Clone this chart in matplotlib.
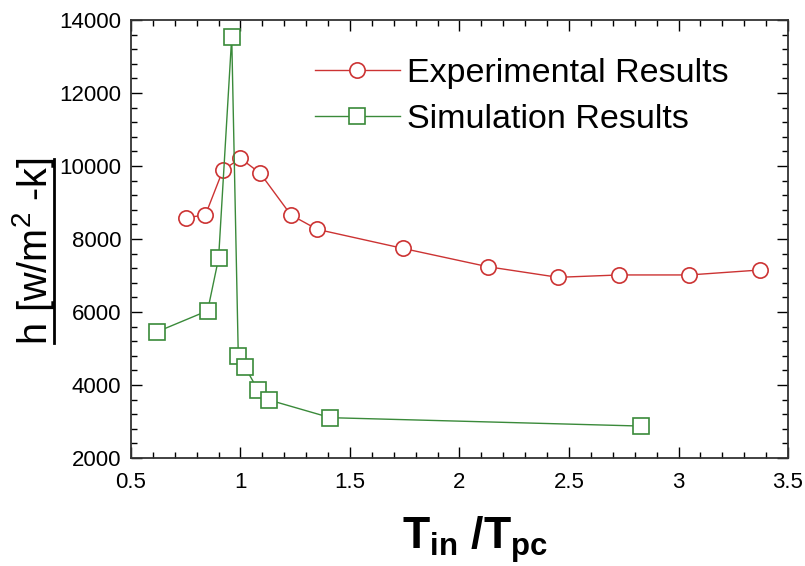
import matplotlib
matplotlib.use("Agg")
import matplotlib.pyplot as plt
from matplotlib.lines import Line2D
from matplotlib.ticker import MultipleLocator, FormatStrFormatter

plt.rcParams["font.family"] = ["Liberation Sans", "DejaVu Sans"]
plt.rcParams["mathtext.fontset"] = "custom"
plt.rcParams["mathtext.rm"] = "Liberation Sans"
plt.rcParams["mathtext.it"] = "Liberation Sans"
plt.rcParams["mathtext.bf"] = "Liberation Sans:bold"

# experimental results (circles)
exp_x = [0.75, 0.84, 0.92, 1.00, 1.09, 1.23, 1.35, 1.74, 2.13, 2.45, 2.73, 3.05, 3.37]
exp_h = [8580, 8660, 9890, 10210, 9800, 8660, 8265, 7745, 7240, 6950, 7015, 7015, 7150]

# simulation results (squares)
sim_x = [0.62, 0.85, 0.90, 0.96, 0.99, 1.02, 1.08, 1.13, 1.41, 2.83]
sim_h = [5460, 6035, 7470, 13540, 4795, 4500, 3860, 3590, 3105, 2875]

red = "#cc3333"
green = "#3a8a3a"

fig = plt.figure(figsize=(8.05, 5.66), dpi=100)
ax = fig.add_axes([0.1627, 0.1908, 0.8162, 0.7739])

ax.plot(exp_x, exp_h, color=red, lw=1.0, marker="o", ms=11, mfc="white",
        mec=red, mew=1.2, label="Experimental Results")
ax.plot(sim_x, sim_h, color=green, lw=1.0, marker="s", ms=12, mfc="white",
        mec=green, mew=1.2, label="Simulation Results")

ax.set_xlim(0.5, 3.5)
ax.set_ylim(2000, 14000)
ax.xaxis.set_major_locator(MultipleLocator(0.5))
ax.xaxis.set_minor_locator(MultipleLocator(0.1))
ax.xaxis.set_major_formatter(FormatStrFormatter("%g"))
ax.yaxis.set_major_locator(MultipleLocator(2000))
ax.yaxis.set_minor_locator(MultipleLocator(400))
ax.tick_params(which="both", direction="in", top=True, right=True, width=1.0,
               labelsize=16)
ax.tick_params(which="major", length=8)
ax.tick_params(which="minor", length=4.5)
ax.tick_params(axis="x", pad=10)
ax.tick_params(axis="y", pad=7)
for s in ax.spines.values():
    s.set_linewidth(1.3)
    s.set_color("#333333")

leg = ax.legend(loc="upper right", bbox_to_anchor=(0.93, 0.945), frameon=False,
                fontsize=24.5, handlelength=2.5, handletextpad=0.2,
                labelspacing=0.45, borderaxespad=0)

fig.text(0.59, 0.03, r"$\mathbf{T_{in}\ /T_{pc}}$", fontsize=32,
         ha="center", va="baseline")

ylab = fig.text(0.041, 0.556, r"h [w/m$^2$ -k]", fontsize=28.5, rotation=90,
                ha="center", va="center")

# underline the y label
fig.canvas.draw()
bb = ylab.get_window_extent()
inv = fig.transFigure.inverted()
(x0, y0) = inv.transform((bb.x1 - 3, bb.y0 + 2))
(x1, y1) = inv.transform((bb.x1 - 3, bb.y1 - 2))
fig.add_artist(Line2D([x0, x1], [y0, y1], transform=fig.transFigure,
                      color="black", lw=2.0))

fig.savefig("out.png", dpi=100)
